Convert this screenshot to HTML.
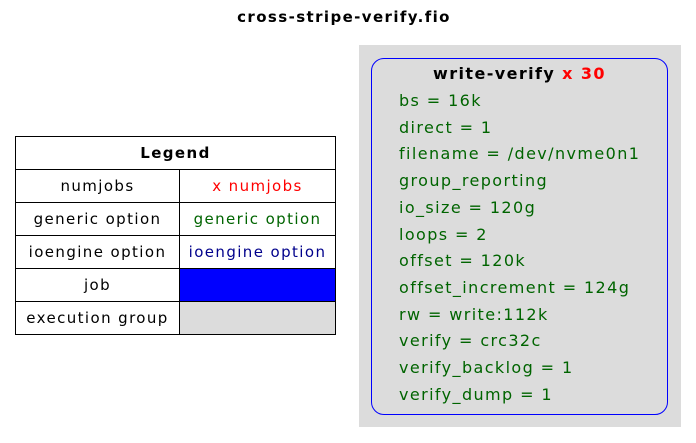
<!DOCTYPE html>
<html><head><meta charset="utf-8"><style>
body{margin:0;width:696px;height:443px;background:#fff;font-family:"DejaVu Sans","Liberation Sans",sans-serif;position:relative;overflow:hidden;letter-spacing:1.4px}
.t{position:absolute;white-space:nowrap}
table{position:absolute;left:15px;top:136px;border-collapse:collapse;font-size:15px}
td{border:1px solid #000;height:32px;padding:0;text-align:center}
</style></head><body>
<div class="t" style="left:0;width:688px;text-align:center;top:8px;font-weight:bold;font-size:15px">cross-stripe-verify.fio</div>
<table>
<tr><td colspan="2" style="font-weight:bold;height:32px">Legend</td></tr>
<tr><td style="width:163px">numjobs</td><td style="width:155px;color:#f00">x numjobs</td></tr>
<tr><td>generic option</td><td style="color:#006400">generic option</td></tr>
<tr><td>ioengine option</td><td style="color:#00008b">ioengine option</td></tr>
<tr><td>job</td><td style="background:#00f"></td></tr>
<tr><td>execution group</td><td style="background:#dcdcdc"></td></tr>
</table>
<div style="position:absolute;left:359px;top:45px;width:322px;height:382px;background:#dcdcdc"></div>
<div style="position:absolute;left:371px;top:58px;width:297px;height:357px;border:1px solid #00f;border-radius:13px;box-sizing:border-box"></div>
<div class="t" style="left:371px;width:297px;text-align:center;top:64px;font-weight:bold;font-size:16px">write-verify <span style="color:#f00">x 30</span></div>
<div style="position:absolute;left:399px;top:88px;color:#006400;font-size:16px;line-height:26.7px;white-space:nowrap">
bs = 16k<br>direct = 1<br>filename = /dev/nvme0n1<br>group_reporting<br>io_size = 120g<br>loops = 2<br>offset = 120k<br>offset_increment = 124g<br>rw = write:112k<br>verify = crc32c<br>verify_backlog = 1<br>verify_dump = 1</div>
</body></html>
